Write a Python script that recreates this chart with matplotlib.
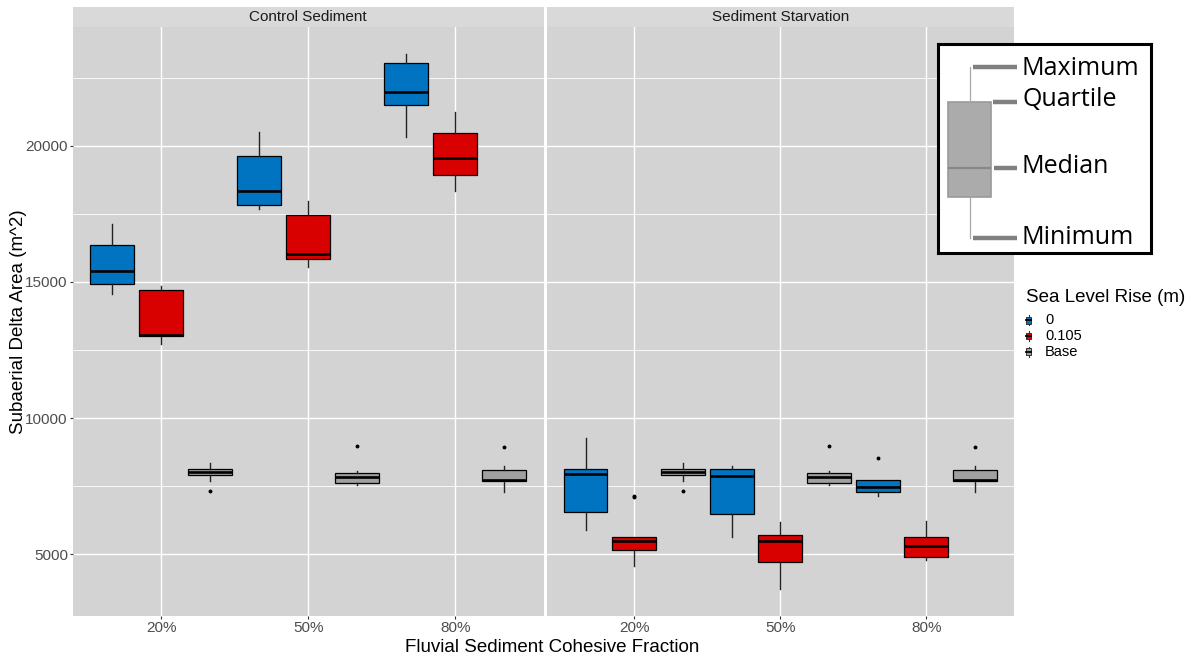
import matplotlib
matplotlib.use("Agg")
import matplotlib.pyplot as plt
import numpy as np
from matplotlib.patches import Rectangle

plt.rcParams['font.family'] = ['Liberation Sans', 'DejaVu Sans']

# ---- data ----
categories = ['20%', '50%', '80%']
groups = ['0', '0.105', 'Base']
panels = ['Control Sediment', 'Sediment Starvation']
colors = {'0': '#0074C0', '0.105': '#D90000', 'Base': '#A0A0A0'}

# Control Sediment
ctrl_0_whislo = [14545, 17676, 20306]
ctrl_0_q1 = [14937, 17835, 21480]
ctrl_0_med = [15402, 18337, 21969]
ctrl_0_q3 = [16356, 19633, 23033]
ctrl_0_whishi = [17126, 20501, 23363]
ctrl_0_fliers = [[], [], []]

ctrl_105_whislo = [12715, 15536, 18349]
ctrl_105_q1 = [13000, 15830, 18924]
ctrl_105_med = [13050, 16037, 19535]
ctrl_105_q3 = [14717, 17468, 20465]
ctrl_105_whishi = [14864, 17958, 21235]
ctrl_105_fliers = [[], [], []]

# Base runs (shown in both panels)
base_whislo = [7713, 7542, 7309]
base_q1 = [7933, 7615, 7701]
base_med = [8030, 7836, 7738]
base_q3 = [8129, 8006, 8104]
base_whishi = [8349, 8055, 8251]
base_fliers = [[7322], [8985], [8960]]

# Sediment Starvation
starv_0_whislo = [5879, 5634, 7138]
starv_0_q1 = [6563, 6490, 7297]
starv_0_med = [7958, 7872, 7493]
starv_0_q3 = [8129, 8129, 7725]
starv_0_whishi = [9266, 8263, 7750]
starv_0_fliers = [[], [], [8532]]

starv_105_whislo = [4582, 3738, 4778]
starv_105_q1 = [5169, 4704, 4912]
starv_105_med = [5499, 5475, 5316]
starv_105_q3 = [5658, 5695, 5634]
starv_105_whishi = [5658, 6184, 6209]
starv_105_fliers = [[7100, 7160], [], []]

# explanatory diagram (arbitrary units)
diag_labels = ['Maximum', 'Quartile', 'Median', 'Minimum']
diag_whislo, diag_q1, diag_med, diag_q3, diag_whishi = 15, 56, 85, 151, 186


def make_stats(whislo, q1, med, q3, whishi, fliers):
    return [dict(whislo=a, q1=b, med=c, q3=d, whishi=e, fliers=f)
            for a, b, c, d, e, f in zip(whislo, q1, med, q3, whishi, fliers)]


panel_data = {
    'Control Sediment': {
        '0': make_stats(ctrl_0_whislo, ctrl_0_q1, ctrl_0_med, ctrl_0_q3, ctrl_0_whishi, ctrl_0_fliers),
        '0.105': make_stats(ctrl_105_whislo, ctrl_105_q1, ctrl_105_med, ctrl_105_q3, ctrl_105_whishi, ctrl_105_fliers),
        'Base': make_stats(base_whislo, base_q1, base_med, base_q3, base_whishi, base_fliers),
    },
    'Sediment Starvation': {
        '0': make_stats(starv_0_whislo, starv_0_q1, starv_0_med, starv_0_q3, starv_0_whishi, starv_0_fliers),
        '0.105': make_stats(starv_105_whislo, starv_105_q1, starv_105_med, starv_105_q3, starv_105_whishi, starv_105_fliers),
        'Base': make_stats(base_whislo, base_q1, base_med, base_q3, base_whishi, base_fliers),
    },
}

W, H = 1201, 658


def px_rect(x0, y0, x1, y1):
    return [x0 / W, 1 - y1 / H, (x1 - x0) / W, (y1 - y0) / H]


fig = plt.figure(figsize=(W / 100, H / 100), dpi=100)

panel_x = [(73, 543.5), (546.5, 1014)]
offsets = [-0.333, 0.0, 0.333]
xpos = np.arange(1, len(categories) + 1)

for (x0, x1), name in zip(panel_x, panels):
    ax = fig.add_axes(px_rect(x0, 27, x1, 616))
    ax.set_facecolor('#D3D3D3')
    for gi, g in enumerate(groups):
        ax.bxp(panel_data[name][g], positions=xpos + offsets[gi], widths=0.3,
               showcaps=False, patch_artist=True,
               boxprops=dict(facecolor=colors[g], edgecolor='black', linewidth=0.9),
               medianprops=dict(color='black', linewidth=1.9, solid_capstyle='butt'),
               whiskerprops=dict(color='#222222', linewidth=1.0),
               flierprops=dict(marker='o', markersize=1.8, markerfacecolor='black',
                               markeredgecolor='black'),
               zorder=3)
    ax.set_xlim(0.4, 3.6)
    ax.set_ylim(2740, 24360)
    ax.set_yticks([5000, 10000, 15000, 20000])
    ax.set_yticks([7500, 12500, 17500, 22500], minor=True)
    ax.set_xticks(xpos)
    ax.set_xticklabels(categories)
    ax.grid(True, which='major', color='white', linewidth=1.0, zorder=0)
    ax.grid(True, which='minor', axis='y', color='white', linewidth=0.6, zorder=0)
    ax.set_axisbelow(True)
    for s in ax.spines.values():
        s.set_visible(False)
    ax.tick_params(axis='both', which='major', length=2.2, width=0.8, color='#333333',
                   labelsize=11, labelcolor='#4D4D4D', pad=1.5)
    ax.tick_params(axis='y', which='minor', length=0)
    if name != panels[0]:
        ax.tick_params(axis='y', which='major', length=0, labelleft=False)

    strip = fig.add_axes(px_rect(x0, 7, x1, 27))
    strip.set_facecolor('#D9D9D9')
    strip.set_xticks([])
    strip.set_yticks([])
    for s in strip.spines.values():
        s.set_visible(False)
    strip.text(0.5, 0.5, name, ha='center', va='center', fontsize=11,
               color='#1A1A1A', transform=strip.transAxes)

fig.text(19 / W, 1 - 321.5 / H, 'Subaerial Delta Area (m^2)', rotation=90,
         ha='center', va='center', fontsize=13.5, color='black')
fig.text(552 / W, 1 - 647 / H, 'Fluvial Sediment Cohesive Fraction',
         ha='center', va='center', fontsize=13.5, color='black')

# legend (keys drawn as mini boxplots, in pixel units)
lax = fig.add_axes(px_rect(1015, 282, 1201, 365))
lax.set_xlim(1015, 1201)
lax.set_ylim(365, 282)
lax.axis('off')
lax.text(1025.5, 297.5, 'Sea Level Rise (m)', ha='left', va='center', fontsize=13.5,
         color='black')
for i, g in enumerate(groups):
    yc = 320.5 + 15.6 * i
    lax.plot([1028.5, 1028.5], [yc - 5, yc + 5], color='#333333', linewidth=0.8)
    lax.add_patch(Rectangle((1026, yc - 3.2), 5.2, 6.4, facecolor=colors[g],
                            edgecolor='#333333', linewidth=0.7, zorder=3))
    lax.plot([1026, 1031.2], [yc, yc], color='black', linewidth=1.3, zorder=4)
    lax.text(1045, yc, g, ha='left', va='center', fontsize=10.5, color='black')

# explanatory inset diagram
dax = fig.add_axes(px_rect(938, 44, 1151, 253))
dax.set_facecolor('white')
dax.bxp([dict(whislo=diag_whislo, q1=diag_q1, med=diag_med, q3=diag_q3,
              whishi=diag_whishi, fliers=[])],
        positions=[31.5], widths=43, showcaps=False, patch_artist=True,
        boxprops=dict(facecolor='#ABABAB', edgecolor='#9A9A9A', linewidth=1.2),
        medianprops=dict(color='#888888', linewidth=1.6),
        whiskerprops=dict(color='#A8A8A8', linewidth=0.9))
dax.set_xlim(0, 213)
dax.set_ylim(0, 209)
dax.set_xticks([])
dax.set_yticks([])
for s in dax.spines.values():
    s.set_linewidth(2.2)
    s.set_color('black')
diag_vals = [diag_whishi, diag_q3, diag_med, diag_whislo]
diag_starts = [35, 55, 56, 35]
diag_text_dy = [-8, -4, -5, -6]
for lab, v, xs, dy in zip(diag_labels, diag_vals, diag_starts, diag_text_dy):
    dax.plot([xs, 79], [v, v], color='#808080', linewidth=3.2, solid_capstyle='butt')
    dax.text(84, v + dy, lab, ha='left', va='baseline', fontsize=18,
             family=['Open Sans', 'DejaVu Sans'], color='black')

fig.savefig('out.png', dpi=100)
